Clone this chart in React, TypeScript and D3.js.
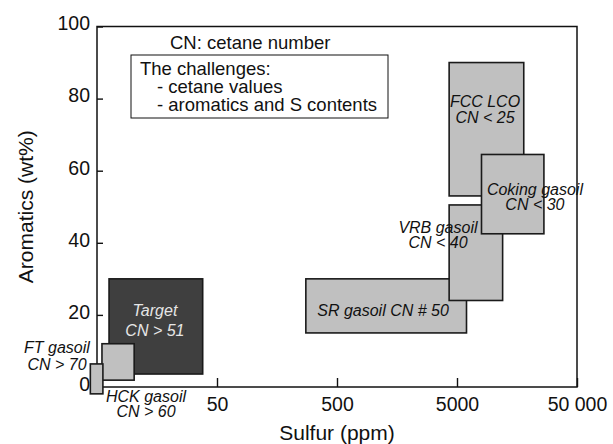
import React, { useEffect, useRef } from "react";
import * as d3 from "d3";

// Boxes (sulfur ppm range, aromatics wt% range)
const boxNames = ["SR gasoil", "VRB gasoil", "FCC LCO", "Coking gasoil", "Target", "HCK gasoil", "FT gasoil"];
const boxKind = ["feed", "feed", "feed", "feed", "target", "feed", "feed"];
const sulfurLow = [275, 4300, 4300, 8000, 6.3, 5.5, 4.4];
const sulfurHigh = [6000, 12000, 18000, 26500, 38, 10.2, 5.6];
const aromLow = [15, 24, 53, 42.5, 3.6, 1.9, -1.9];
const aromHigh = [30, 50.5, 90, 64.5, 30, 12, 6.4];

// Labels
const labelLines = [
  ["SR gasoil CN # 50"],
  ["VRB gasoil", "CN < 40"],
  ["FCC LCO", "CN < 25"],
  ["Coking gasoil", "CN < 30"],
  ["Target", "CN > 51"],
  ["HCK gasoil", "CN > 60"],
  ["FT gasoil", "CN > 70"],
];
const labelSulfur = [1210, 3470, 8560, 22300, 15.2, 12.8, 2.32];
const labelArom = [19.7, 42.8, 77.8, 53.3, 19.7, -4.2, 9.4];
const labelGap = [0, 15, 16, 15, 20, 15, 17];

const xTicks = [50, 500, 5000, 50000];
const xTickLabels = ["50", "500", "5000", "50 000"];
const yTicks = [0, 20, 40, 60, 80, 100];

const noteTitle = "CN: cetane number";
const noteLines = ["The challenges:", "- cetane values", "- aromatics and S contents"];

const W = 613;
const H = 444;
const L = 97, R = 577, T = 26.5, B = 387;
const FONT = "'Liberation Sans', Arial, Helvetica, sans-serif";

export default function App() {
  const xAxisRef = useRef<SVGGElement>(null);
  const yAxisRef = useRef<SVGGElement>(null);

  const x = d3.scaleLog().domain([5, 50000]).range([L, R]);
  const y = d3.scaleLinear().domain([0, 100]).range([B, T]);

  useEffect(() => {
    const gx = d3.select(xAxisRef.current!);
    gx.call(
      d3.axisBottom(x)
        .tickValues(xTicks)
        .tickFormat((_d: any, i: number) => xTickLabels[i])
        .tickSizeInner(-9)
        .tickSizeOuter(0)
        .tickPadding(10) as any
    );
    gx.select(".domain").remove();
    gx.selectAll("line").attr("stroke", "#111").attr("stroke-width", 1.4);
    gx.selectAll("text").attr("font-size", 19.5).attr("font-family", FONT).attr("fill", "#111");

    const gy = d3.select(yAxisRef.current!);
    gy.call(
      d3.axisLeft(y)
        .tickValues(yTicks)
        .tickFormat(d3.format("d") as any)
        .tickSizeInner(-6)
        .tickSizeOuter(0)
        .tickPadding(7) as any
    );
    gy.select(".domain").remove();
    gy.selectAll("line").attr("stroke", "#111").attr("stroke-width", 1.4);
    gy.selectAll("text")
      .attr("font-size", 19.5)
      .attr("font-family", FONT)
      .attr("fill", "#111")
      .attr("dy", "0.17em");
  }, []);

  return (
    <svg
      width={W}
      height={H}
      style={{ position: "absolute", left: 0, top: 0, background: "#fff" }}
      fontFamily={FONT}
    >
      <rect x={0} y={0} width={W} height={H} fill="#fff" />
      {/* frame */}
      <rect x={L} y={T} width={R - L} height={B - T} fill="none" stroke="#111" strokeWidth={1.5} />
      <g ref={xAxisRef} transform={`translate(0,${B})`} />
      <g ref={yAxisRef} transform={`translate(${L},0)`} />

      {/* note */}
      <text x={170} y={49} fontSize={18.5} fill="#111">{noteTitle}</text>
      <rect x={131} y={55} width={257} height={63} fill="#fff" stroke="#111" strokeWidth={1} />
      {noteLines.map((t, i) => (
        <text key={i} x={i === 0 ? 140 : 157} y={75 + i * 18} fontSize={18.5} fill="#111">
          {t}
        </text>
      ))}

      {/* boxes */}
      {boxNames.map((n, i) => (
        <rect
          key={n}
          x={x(sulfurLow[i])}
          y={y(aromHigh[i])}
          width={x(sulfurHigh[i]) - x(sulfurLow[i])}
          height={y(aromLow[i]) - y(aromHigh[i])}
          fill={boxKind[i] === "target" ? "#3f3f3f" : "#c0c0c0"}
          stroke="#1a1a1a"
          strokeWidth={1.6}
        />
      ))}

      {/* labels */}
      {labelLines.map((lines, i) => (
        <text
          key={i}
          x={x(labelSulfur[i])}
          y={y(labelArom[i])}
          fontSize={16}
          fontStyle="italic"
          textAnchor="middle"
          fill={boxKind[i] === "target" ? "#e6e6e6" : "#111"}
        >
          {lines.map((ln, j) => (
            <tspan key={j} x={x(labelSulfur[i])} dy={j === 0 ? 0 : labelGap[i]}>
              {ln}
            </tspan>
          ))}
        </text>
      ))}

      {/* axis titles */}
      <text x={(L + R) / 2} y={440} fontSize={21} textAnchor="middle" fill="#111">
        Sulfur (ppm)
      </text>
      <text
        transform={`translate(33,${(T + B) / 2}) rotate(-90)`}
        fontSize={21}
        textAnchor="middle"
        fill="#111"
      >
        Aromatics (wt%)
      </text>
    </svg>
  );
}
